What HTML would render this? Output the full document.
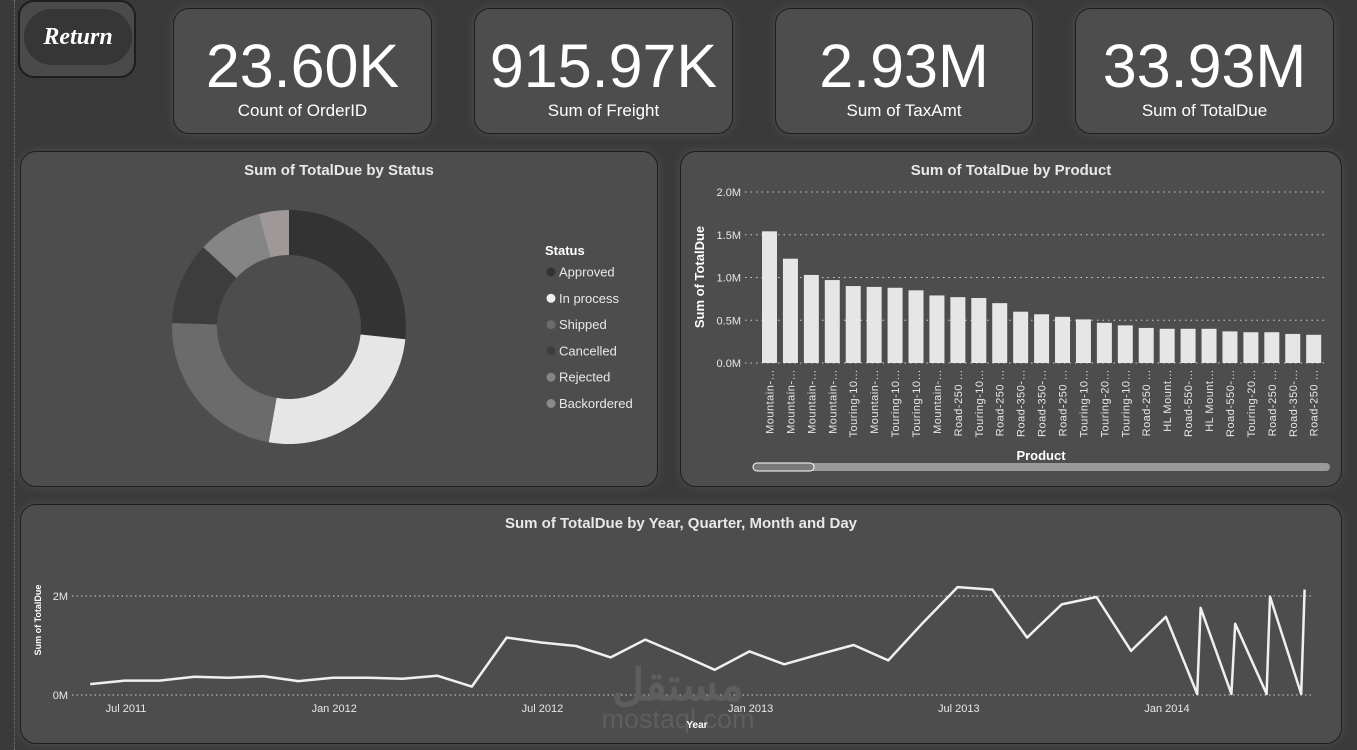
<!DOCTYPE html>
<html><head><meta charset="utf-8">
<style>
body{margin:0;width:1357px;height:750px;background:#3a3a3a;font-family:"Liberation Sans",sans-serif;overflow:hidden;position:relative}
.card{position:absolute;background:#4d4d4d;border:1px solid #1e1e1e;border-radius:16px;box-shadow:0 0 10px rgba(200,200,200,0.15)}
.kpi .v{position:absolute;left:0;right:0;top:22px;text-align:center;color:#fff;font-size:61px;line-height:70px}
.kpi .l{position:absolute;left:0;right:0;top:92px;text-align:center;color:#fff;font-size:17px}
.title{position:absolute;left:0;right:0;text-align:center;color:#e8e8e8;font-weight:bold;font-size:15px}
svg text{font-family:"Liberation Sans",sans-serif}
</style></head><body>
<div style="position:absolute;left:14px;top:0;height:750px;border-left:1px dotted #777"></div>
<div style="position:absolute;left:18px;top:0;width:114px;height:74px;border:2px solid #1e1e1e;border-radius:16px;background:#4a4a4a">
<div style="position:absolute;left:4px;top:7px;width:108px;height:56px;border-radius:28px;background:#363636;color:#fff;font:bold italic 24px 'Liberation Serif',serif;text-align:center;line-height:56px">Return</div></div>
<div class="card kpi" style="left:173px;top:8px;width:257px;height:124px"><div class="v">23.60K</div><div class="l">Count of OrderID</div></div>
<div class="card kpi" style="left:474px;top:8px;width:257px;height:124px"><div class="v">915.97K</div><div class="l">Sum of Freight</div></div>
<div class="card kpi" style="left:775px;top:8px;width:256px;height:124px"><div class="v">2.93M</div><div class="l">Sum of TaxAmt</div></div>
<div class="card kpi" style="left:1075px;top:8px;width:257px;height:124px"><div class="v">33.93M</div><div class="l">Sum of TotalDue</div></div>

<div class="card" style="left:20px;top:151px;width:636px;height:334px">
<div class="title" style="top:10px">Sum of TotalDue by Status</div></div>
<div class="card" style="left:680px;top:151px;width:660px;height:334px">
<div class="title" style="top:10px">Sum of TotalDue by Product</div></div>
<div class="card" style="left:20px;top:504px;width:1320px;height:238px">
<div class="title" style="top:10px">Sum of TotalDue by Year, Quarter, Month and Day</div></div>

<svg id="chart" width="1357" height="750" style="position:absolute;left:0;top:0"></svg>
<script>
const statuses=["Approved","In process","Shipped","Cancelled","Rejected","Backordered"];
const statusValues=[96,94,82,41,32,15];
const statusColors=["#333333","#e6e6e6","#6b6b6b","#3d3d3d","#858585","#9e9898"];
const legendColors=["#333333","#eeeeee","#6b6b6b","#3d3d3d","#858585","#8a8a8a"];
const products=["Mountain-…","Mountain-…","Mountain-…","Mountain-…","Touring-10…","Mountain-…","Touring-10…","Touring-10…","Mountain-…","Road-250 …","Touring-10…","Road-250 …","Road-350-…","Road-350-…","Road-250 …","Touring-10…","Touring-20…","Touring-10…","Road-250 …","HL Mount…","Road-550-…","HL Mount…","Road-550-…","Touring-20…","Road-250 …","Road-350-…","Road-250 …"];
const productValues=[1.54,1.22,1.03,0.97,0.90,0.89,0.88,0.85,0.79,0.77,0.76,0.70,0.60,0.57,0.54,0.51,0.47,0.44,0.41,0.40,0.40,0.40,0.37,0.36,0.36,0.34,0.33];
const barTicks=[0,0.5,1.0,1.5,2.0];
const barTickLabels=["0.0M","0.5M","1.0M","1.5M","2.0M"];
const lineDates=["2011-05-31","2011-06-30","2011-07-31","2011-08-31","2011-09-30","2011-10-31","2011-11-30","2011-12-31","2012-01-31","2012-02-29","2012-03-31","2012-04-30","2012-05-31","2012-06-30","2012-07-31","2012-08-31","2012-09-30","2012-10-31","2012-11-30","2012-12-31","2013-01-31","2013-02-28","2013-03-31","2013-04-30","2013-05-31","2013-06-30","2013-07-31","2013-08-31","2013-09-30","2013-10-31","2013-11-30","2013-12-31","2014-01-28","2014-01-31","2014-02-25","2014-02-28","2014-03-28","2014-03-31","2014-04-27","2014-04-30"];
const lineValues=[0.22,0.29,0.29,0.37,0.35,0.38,0.28,0.35,0.35,0.33,0.39,0.17,1.16,1.06,0.99,0.76,1.12,0.82,0.51,0.88,0.62,0.82,1.01,0.70,1.46,2.18,2.13,1.16,1.83,1.98,0.89,1.58,0.02,1.76,0.02,1.44,0.02,1.99,0.02,2.13];
const lineTicks=[0,2];
const lineTickLabels=["0M","2M"];
const xTickDates=["2011-07-01","2012-01-01","2012-07-01","2013-01-01","2013-07-01","2014-01-01"];
const xTickLabels=["Jul 2011","Jan 2012","Jul 2012","Jan 2013","Jul 2013","Jan 2014"];

const NS="http://www.w3.org/2000/svg";
const svg=document.getElementById('chart');
function mk(tag,attrs,parent){const e=document.createElementNS(NS,tag);for(const k in attrs)e.setAttribute(k,attrs[k]);(parent||svg).appendChild(e);return e;}

// Donut
const cx=289,cy=327,R=117,r=72;
const total=statusValues.reduce((a,b)=>a+b,0);
let acc=0;
statusValues.forEach((v,i)=>{
  const a0=acc/total*2*Math.PI, a1=(acc+v)/total*2*Math.PI; acc+=v;
  const p=(a,rr)=>[cx+rr*Math.sin(a),cy-rr*Math.cos(a)];
  const large=(a1-a0)>Math.PI?1:0;
  const [x0,y0]=p(a0,R),[x1,y1]=p(a1,R),[x2,y2]=p(a1,r),[x3,y3]=p(a0,r);
  const el=mk('path',{d:`M${x0},${y0}A${R},${R} 0 ${large} 1 ${x1},${y1}L${x2},${y2}A${r},${r} 0 ${large} 0 ${x3},${y3}Z`,fill:statusColors[i]});
  
  
});
const lt=mk('text',{x:545,y:255,fill:'#fff','font-size':13,'font-weight':'bold'});lt.textContent='Status';


statuses.forEach((s,i)=>{
  const g=mk('g',{});
  
  
  const y=272+i*26.3;
  mk('circle',{cx:551,cy:y,r:4.5,fill:legendColors[i]},g);
  const t=mk('text',{x:559,y:y+4.5,fill:'#e8e8e8','font-size':13},g);t.textContent=s;
});

// Bar chart
const by0=363,byScale=(363-192)/2.0,bx0=762,bpitch=20.93,bw=15;
const yb=v=>by0-v*byScale;
barTicks.forEach((v,i)=>{
  mk('line',{x1:745,x2:1328,y1:yb(v),y2:yb(v),stroke:'#cfcfcf','stroke-dasharray':'1.5 4','stroke-width':1});
  const t=mk('text',{x:741,y:yb(v)+4,fill:'#e8e8e8','font-size':11,'text-anchor':'end'});t.textContent=barTickLabels[i];
  
  
});
productValues.forEach((v,i)=>{
  const x=bx0+i*bpitch;
  const b=mk('rect',{x:x,y:yb(v),width:bw,height:yb(0)-yb(v),fill:'#e6e6e6'});
  
  
  const t=mk('text',{x:0,y:0,fill:'#e8e8e8','font-size':11,'text-anchor':'end','letter-spacing':'0.5',transform:`translate(${x+bw/2+4},369) rotate(-90)`});
  t.textContent=products[i];
  
  
});
let t1=mk('text',{x:0,y:0,fill:'#fff','font-size':13,'font-weight':'bold','text-anchor':'middle',transform:'translate(704,277) rotate(-90)'});t1.textContent='Sum of TotalDue';


let t2=mk('text',{x:1041,y:460,fill:'#fff','font-size':13,'font-weight':'bold','text-anchor':'middle'});t2.textContent='Product';


const sb=mk('rect',{x:753,y:463,width:577,height:8,rx:4,fill:'#9a9a9a'});


const th=mk('rect',{x:753,y:463,width:61,height:8,rx:4,fill:'#7a7a7a',stroke:'#fff','stroke-width':1});



// Line chart
const ly0=695,lyScale=(695-596)/2,lx0=126,mpx=34.7;
const yl=v=>ly0-v*lyScale;
function tOf(ds){const [Y,M,D]=ds.split('-').map(Number);const dim=new Date(Y,M,0).getDate();return (Y-2011)*12+(M-7)+(D-1)/dim;}
const xl=ds=>lx0+tOf(ds)*mpx;
lineTicks.forEach((v,i)=>{
  mk('line',{x1:72,x2:1312,y1:yl(v),y2:yl(v),stroke:'#cfcfcf','stroke-dasharray':'1.5 3','stroke-width':1});
  const t=mk('text',{x:68,y:yl(v)+4,fill:'#e8e8e8','font-size':11,'text-anchor':'end'});t.textContent=lineTickLabels[i];
  
  
});
xTickDates.forEach((d,i)=>{
  const t=mk('text',{x:xl(d),y:712,fill:'#e8e8e8','font-size':11,'text-anchor':'middle'});t.textContent=xTickLabels[i];
  
  
});
const wm=mk('text',{x:678,y:700,fill:'#5e5e5e','font-size':44,'font-weight':'bold','text-anchor':'middle'});wm.textContent='مستقل';


const wm2=mk('text',{x:678,y:728,fill:'#5e5e5e','font-size':27,'text-anchor':'middle'});wm2.textContent='mostaql.com';


const pts=lineDates.map((d,i)=>`${xl(d).toFixed(1)},${yl(lineValues[i]).toFixed(1)}`).join(' ');
const pl=mk('polyline',{points:pts,fill:'none',stroke:'#f0f0f0','stroke-width':2.5,'stroke-linejoin':'round'});


let t3=mk('text',{x:0,y:0,fill:'#fff','font-size':9,'font-weight':'bold','text-anchor':'middle',transform:'translate(41,620) rotate(-90)'});t3.textContent='Sum of TotalDue';


let t4=mk('text',{x:697,y:728,fill:'#fff','font-size':10,'font-weight':'bold','text-anchor':'middle'});t4.textContent='Year';


</script>
</body></html>
